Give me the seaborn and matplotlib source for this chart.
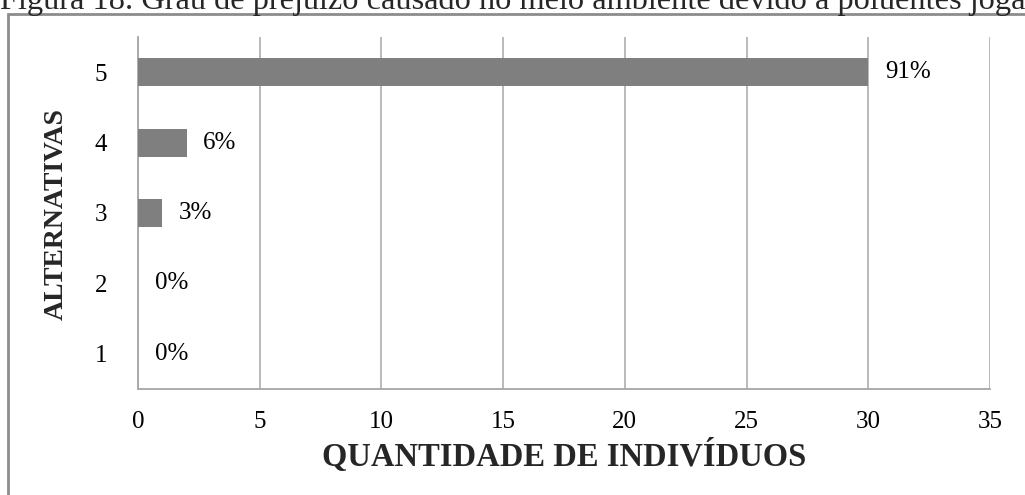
import matplotlib
matplotlib.use("Agg")
import matplotlib.pyplot as plt
import seaborn as sns
import pandas as pd
from matplotlib.patches import Rectangle

categories = ["5", "4", "3", "2", "1"]
values = [30, 2, 1, 0, 0]
pct_labels = ["91%", "6%", "3%", "0%", "0%"]
xticks = [0, 5, 10, 15, 20, 25, 30, 35]
title = "Figura 18. Grau de prejuízo causado no meio ambiente devido a poluentes jogados"

sns.set_theme(style="white")
plt.rcParams['font.family'] = ['Liberation Serif', 'DejaVu Serif']

df = pd.DataFrame({"alt": categories, "qtd": values})

fig = plt.figure(figsize=(10.25, 4.95), dpi=100)
ax = fig.add_axes([138/1025, 1-389/495, (990-138)/1025, (389-37)/495])

sns.barplot(data=df, x="qtd", y="alt", order=categories, orient="h",
            color="#7f7f7f", width=0.4, saturation=1, ax=ax, zorder=3,
            linewidth=0, edgecolor="none")

ax.set_xlim(0, 35)
ax.set_xticks(xticks)
ax.set_xticklabels([str(t) for t in xticks])
ax.grid(axis="x", color="#b4b4b4", linewidth=1.3, zorder=0)
ax.grid(axis="y", visible=False)
for s in ["top", "right"]:
    ax.spines[s].set_visible(False)
for s in ["left", "bottom"]:
    ax.spines[s].set_color("#a6a6a6")
    ax.spines[s].set_linewidth(1.3)
ax.tick_params(axis="both", length=0, labelsize=18, colors="black")
ax.tick_params(axis="y", pad=22)
ax.tick_params(axis="x", pad=16)

for i, (v, lab) in enumerate(zip(values, pct_labels)):
    ax.annotate(lab, xy=(v, i), xytext=(12, 0), textcoords="offset points",
                ha="left", va="center", fontsize=18, color="black")

ax.set_xlabel("QUANTIDADE DE INDIVÍDUOS", fontsize=23.5, fontweight="bold", labelpad=4)
ax.set_ylabel("")
fig.text(56/1025, 1-214/495, "ALTERNATIVAS", rotation=90, fontsize=20,
         fontweight="bold", ha="center", va="center")

fig.text(0.0, 1-9/495, title, fontsize=23.3, ha="left", va="baseline")

fig.patches.append(Rectangle((8/1025, -0.2), 1.2, 1.2 - 14/495,
                             transform=fig.transFigure, fill=False,
                             edgecolor="#8c8c8c", linewidth=2))

fig.savefig("out.png", dpi=100)
